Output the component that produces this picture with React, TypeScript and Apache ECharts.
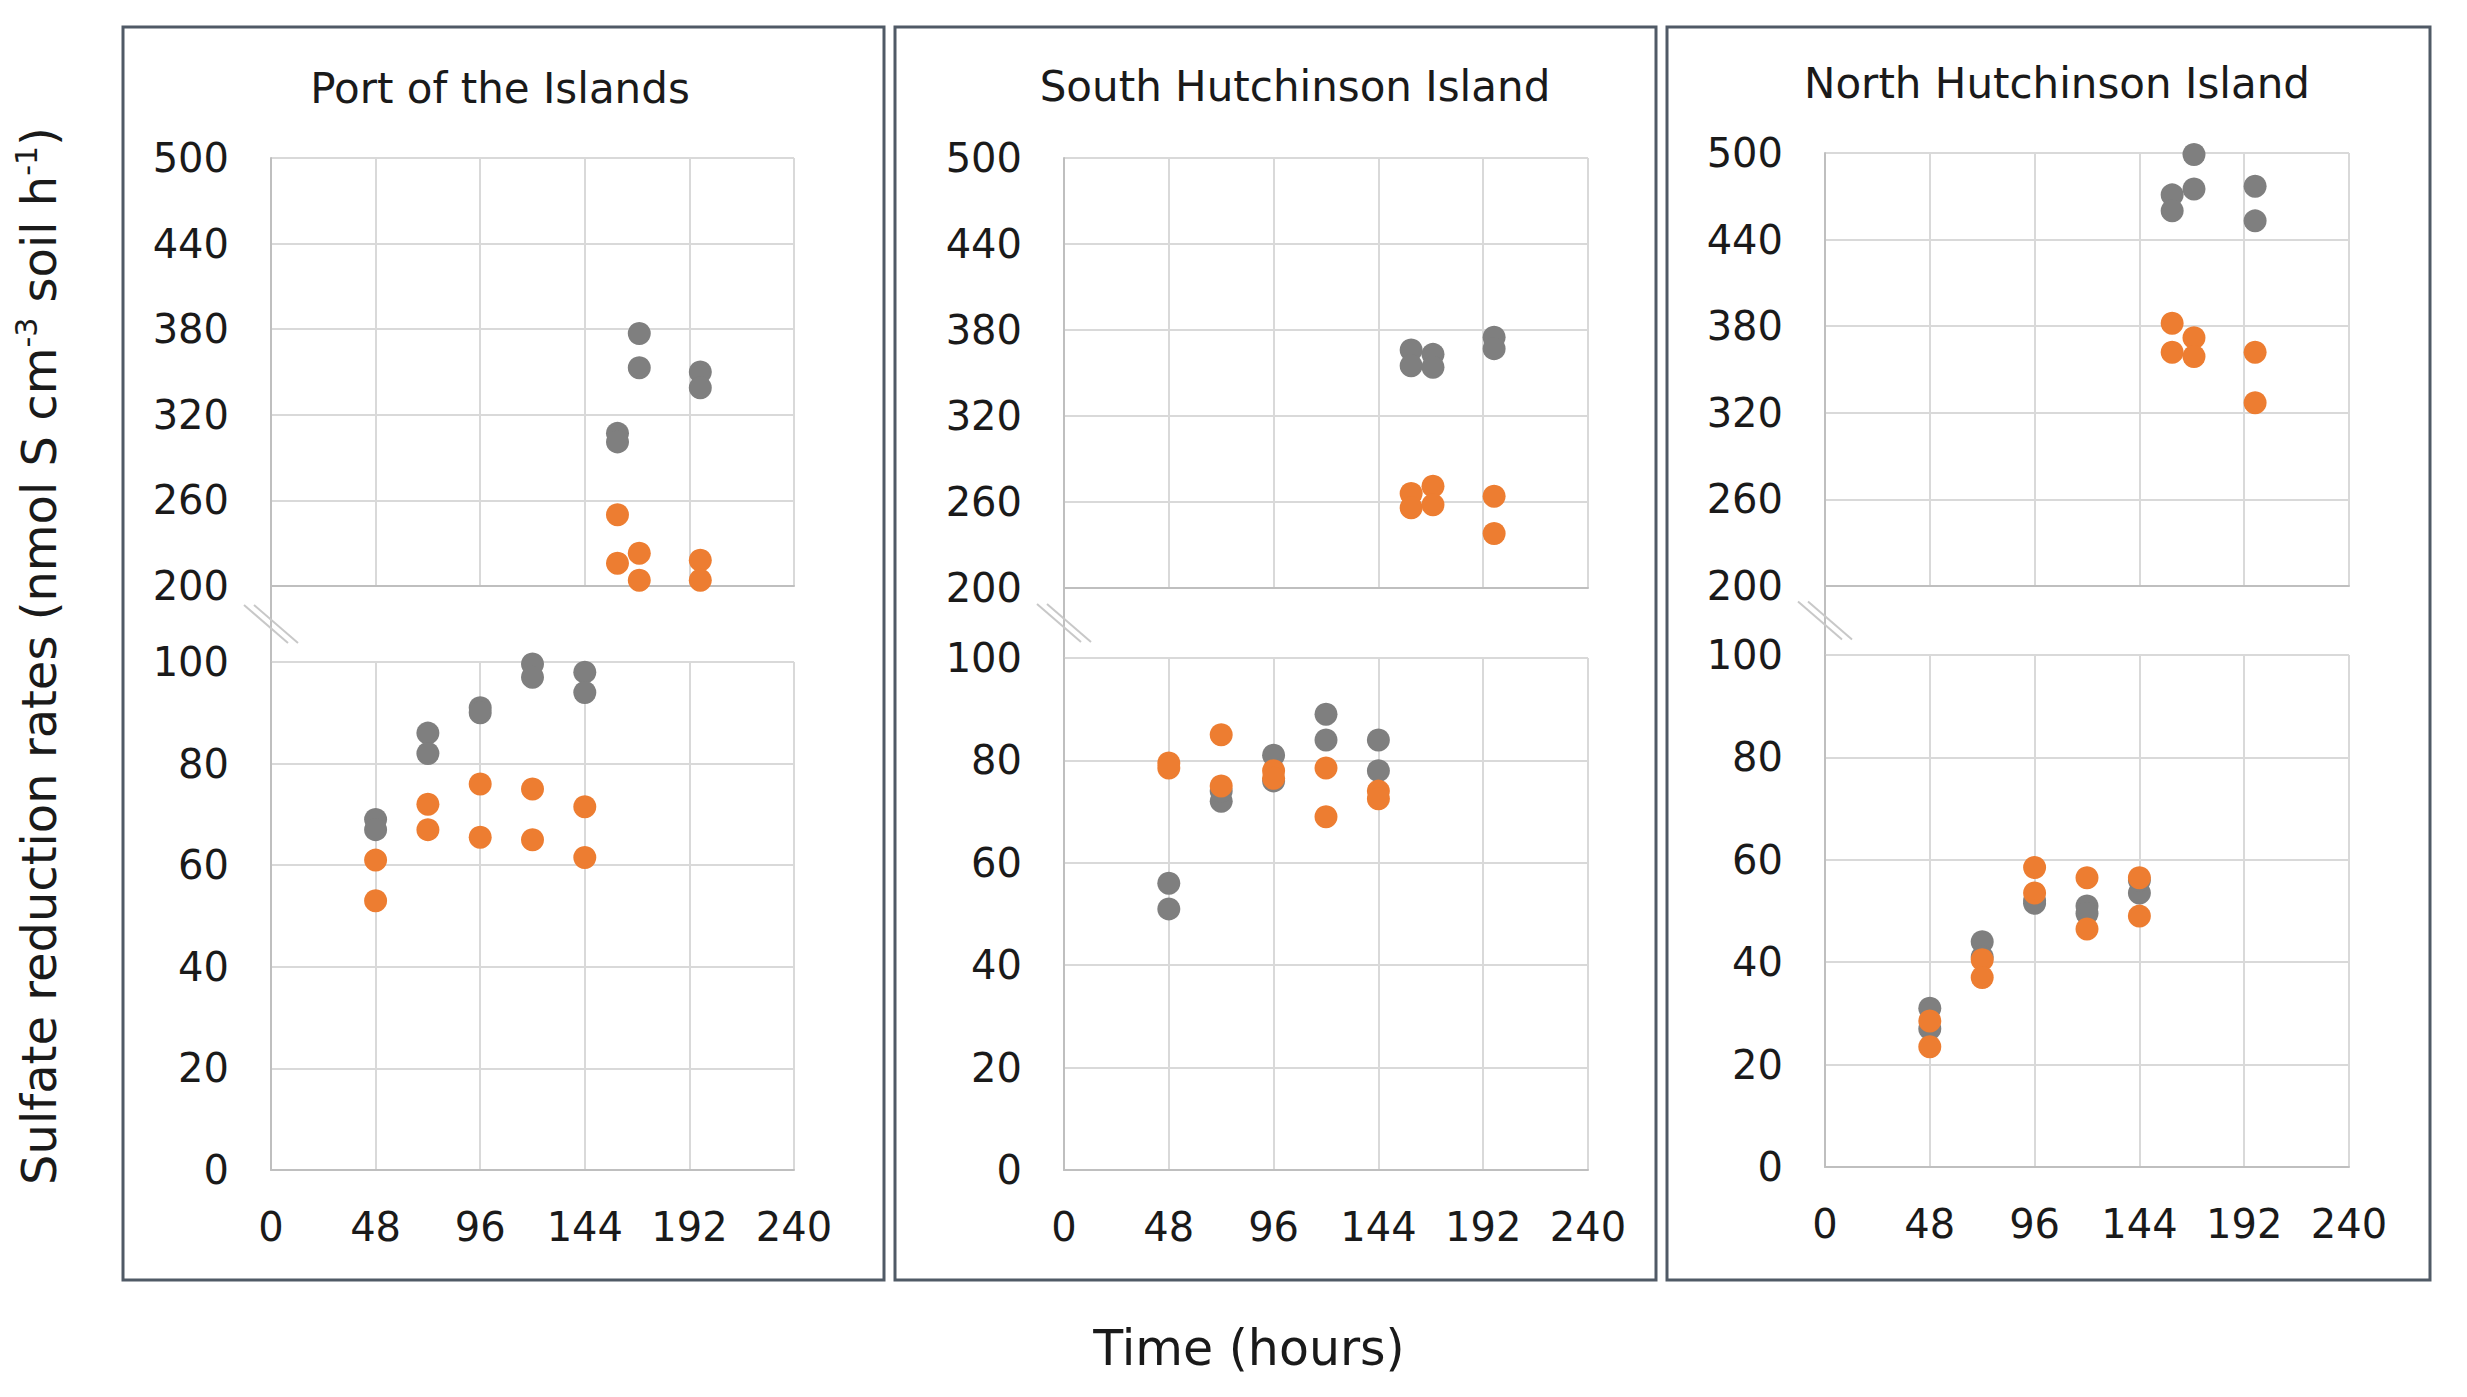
import React, { useEffect, useRef } from "react";
import * as echarts from "echarts";

// ---------- data ----------
const siteNames = ["Port of the Islands", "South Hutchinson Island", "North Hutchinson Island"];
const xTicks = [0, 48, 96, 144, 192, 240];
const lowerYTicks = [0, 20, 40, 60, 80, 100];
const upperYTicks = [200, 260, 320, 380, 440, 500];

const lowerTimes = [48, 48, 72, 72, 96, 96, 120, 120, 144, 144];
const upperTimes = [159, 159, 169, 169, 197, 197];

// Port of the Islands
const portLowerGray = [69, 67, 86, 82, 91, 90, 99.6, 97, 98, 94];
const portLowerOrange = [61, 53, 72, 67, 76, 65.5, 75, 65, 71.5, 61.5];
const portUpperGray = [307, 301, 377, 353, 350, 339];
const portUpperOrange = [250, 216, 223, 204, 218, 204];

// South Hutchinson Island
const southLowerGray = [56, 51, 72, 74, 81, 76, 89, 84, 84, 78];
const southLowerOrange = [79.5, 78.5, 85, 75, 78, 76.5, 78.5, 69, 74, 72.5];
const southUpperGray = [366, 355, 363, 354, 375, 367];
const southUpperOrange = [266, 256, 271, 258, 264, 238];

// North Hutchinson Island
const northLowerGray = [31, 27, 44, 41, 52, 51.5, 51, 49.5, 53.5, 56];
const northLowerOrange = [28.5, 23.5, 40.5, 37, 58.5, 53.5, 56.5, 46.5, 56.5, 49];
const northUpperGray = [471, 460, 499, 475, 477, 453];
const northUpperOrange = [382, 362, 372, 359, 362, 327];

const GRAY = "#7f7f7f";
const ORANGE = "#ed7d31";
const FONT = "DejaVu Sans";

const pairs = (t: number[], v: number[]) => t.map((x, i) => [x, v[i]]);

export default function App() {
  const ref = useRef<HTMLDivElement>(null);

  useEffect(() => {
    document.body.style.margin = "0";
    document.body.style.overflow = "hidden";
    const chart = echarts.init(ref.current!, null, { renderer: "svg" });

    // panel layout: [upper grid, lower grid]
    const panels = [
      { frame: [123, 27, 761, 1253], upper: { left: 271, top: 158, width: 523, height: 428 }, lower: { left: 271, top: 662, width: 523, height: 508 }, titleX: 500, titleY: 88 },
      { frame: [895, 27, 761, 1253], upper: { left: 1064, top: 158, width: 524, height: 430 }, lower: { left: 1064, top: 658, width: 524, height: 512 }, titleX: 1295, titleY: 86 },
      { frame: [1667, 27, 763, 1253], upper: { left: 1825, top: 153, width: 524, height: 433 }, lower: { left: 1825, top: 655, width: 524, height: 512 }, titleX: 2057, titleY: 83 },
    ];

    const seriesData = [
      { ug: portUpperGray, uo: portUpperOrange, lg: portLowerGray, lo: portLowerOrange },
      { ug: southUpperGray, uo: southUpperOrange, lg: southLowerGray, lo: southLowerOrange },
      { ug: northUpperGray, uo: northUpperOrange, lg: northLowerGray, lo: northLowerOrange },
    ];

    const grid: any[] = [];
    const xAxis: any[] = [];
    const yAxis: any[] = [];
    const series: any[] = [];
    const graphic: any[] = [];

    const axisLineStyle = { color: "#bfbfbf", width: 2 };
    const splitStyle = { color: "#d9d9d9", width: 2 };
    const labelStyle = { fontFamily: FONT, fontSize: 40, color: "#1a1a1a" };

    panels.forEach((p, pi) => {
      const ui = grid.length;
      grid.push({ ...p.upper, containLabel: false });
      const li = grid.length;
      grid.push({ ...p.lower, containLabel: false });

      // upper axes
      xAxis.push({
        type: "value", gridIndex: ui, min: xTicks[0], max: xTicks[xTicks.length - 1], interval: 48,
        axisLine: { show: true, lineStyle: axisLineStyle }, axisTick: { show: false },
        axisLabel: { show: false }, splitLine: { show: true, lineStyle: splitStyle },
      });
      yAxis.push({
        type: "value", gridIndex: ui, min: upperYTicks[0], max: upperYTicks[upperYTicks.length - 1], interval: 60,
        axisLine: { show: true, lineStyle: axisLineStyle }, axisTick: { show: false },
        axisLabel: { ...labelStyle, margin: 42 }, splitLine: { show: true, lineStyle: splitStyle },
      });
      // lower axes
      xAxis.push({
        type: "value", gridIndex: li, min: xTicks[0], max: xTicks[xTicks.length - 1], interval: 48,
        axisLine: { show: true, lineStyle: axisLineStyle }, axisTick: { show: false },
        axisLabel: { ...labelStyle, margin: 37 }, splitLine: { show: true, lineStyle: splitStyle },
      });
      yAxis.push({
        type: "value", gridIndex: li, min: lowerYTicks[0], max: lowerYTicks[lowerYTicks.length - 1], interval: 20,
        axisLine: { show: true, lineStyle: axisLineStyle }, axisTick: { show: false },
        axisLabel: { ...labelStyle, margin: 42 }, splitLine: { show: true, lineStyle: splitStyle },
      });

      const d = seriesData[pi];
      const mk = (idx: number, t: number[], v: number[], color: string, name: string) => ({
        type: "scatter", name, xAxisIndex: idx, yAxisIndex: idx, data: pairs(t, v),
        symbol: "circle", symbolSize: 23, itemStyle: { color, opacity: 1 }, z: color === ORANGE ? 3 : 2,
      });
      series.push(mk(ui, upperTimes, d.ug, GRAY, "gray"));
      series.push(mk(ui, upperTimes, d.uo, ORANGE, "orange"));
      series.push(mk(li, lowerTimes, d.lg, GRAY, "gray"));
      series.push(mk(li, lowerTimes, d.lo, ORANGE, "orange"));

      // frame
      graphic.push({
        type: "rect", shape: { x: p.frame[0], y: p.frame[1], width: p.frame[2], height: p.frame[3] },
        style: { fill: "none", stroke: "#505a66", lineWidth: 3 }, z: 0,
      });
      // title
      graphic.push({
        type: "text", x: p.titleX, y: p.titleY,
        style: { text: siteNames[pi], fontFamily: FONT, fontSize: 42, fill: "#1a1a1a", align: "center", verticalAlign: "middle" },
      });
      // axis line continuing through the break
      const ub = p.upper.top + p.upper.height;
      graphic.push({
        type: "line", shape: { x1: p.lower.left, y1: ub, x2: p.lower.left, y2: p.lower.top },
        style: { stroke: "#bfbfbf", lineWidth: 2 },
      });
      // break marks
      const cy = (ub + p.lower.top) / 2;
      const cx = p.lower.left;
      [-5, 5].forEach((off) => {
        graphic.push({
          type: "line", shape: { x1: cx - 22 + off, y1: cy - 19, x2: cx + 22 + off, y2: cy + 19 },
          style: { stroke: "#c8c8c8", lineWidth: 2 },
        });
      });
    });

    // axis titles
    graphic.push({
      type: "text", x: 39, y: 656, rotation: Math.PI / 2,
      style: {
        text: "{a|Sulfate reduction rates (nmol S cm}{s|-3}{a| soil h}{s|-1}{a|)}",
        align: "center", verticalAlign: "middle", fill: "#1a1a1a",
        rich: {
          a: { fontFamily: FONT, fontSize: 48, lineHeight: 56, fill: "#1a1a1a" },
          s: { fontFamily: FONT, fontSize: 30, lineHeight: 56, verticalAlign: "top", fill: "#1a1a1a" },
        },
      },
    });
    graphic.push({
      type: "text", x: 1249, y: 1348,
      style: { text: "Time (hours)", fontFamily: FONT, fontSize: 49, fill: "#1a1a1a", align: "center", verticalAlign: "middle" },
    });

    chart.setOption({
      animation: false,
      backgroundColor: "#ffffff",
      grid, xAxis, yAxis, series, graphic,
    });

    return () => chart.dispose();
  }, []);

  return <div ref={ref} style={{ width: 2467, height: 1397 }} />;
}
